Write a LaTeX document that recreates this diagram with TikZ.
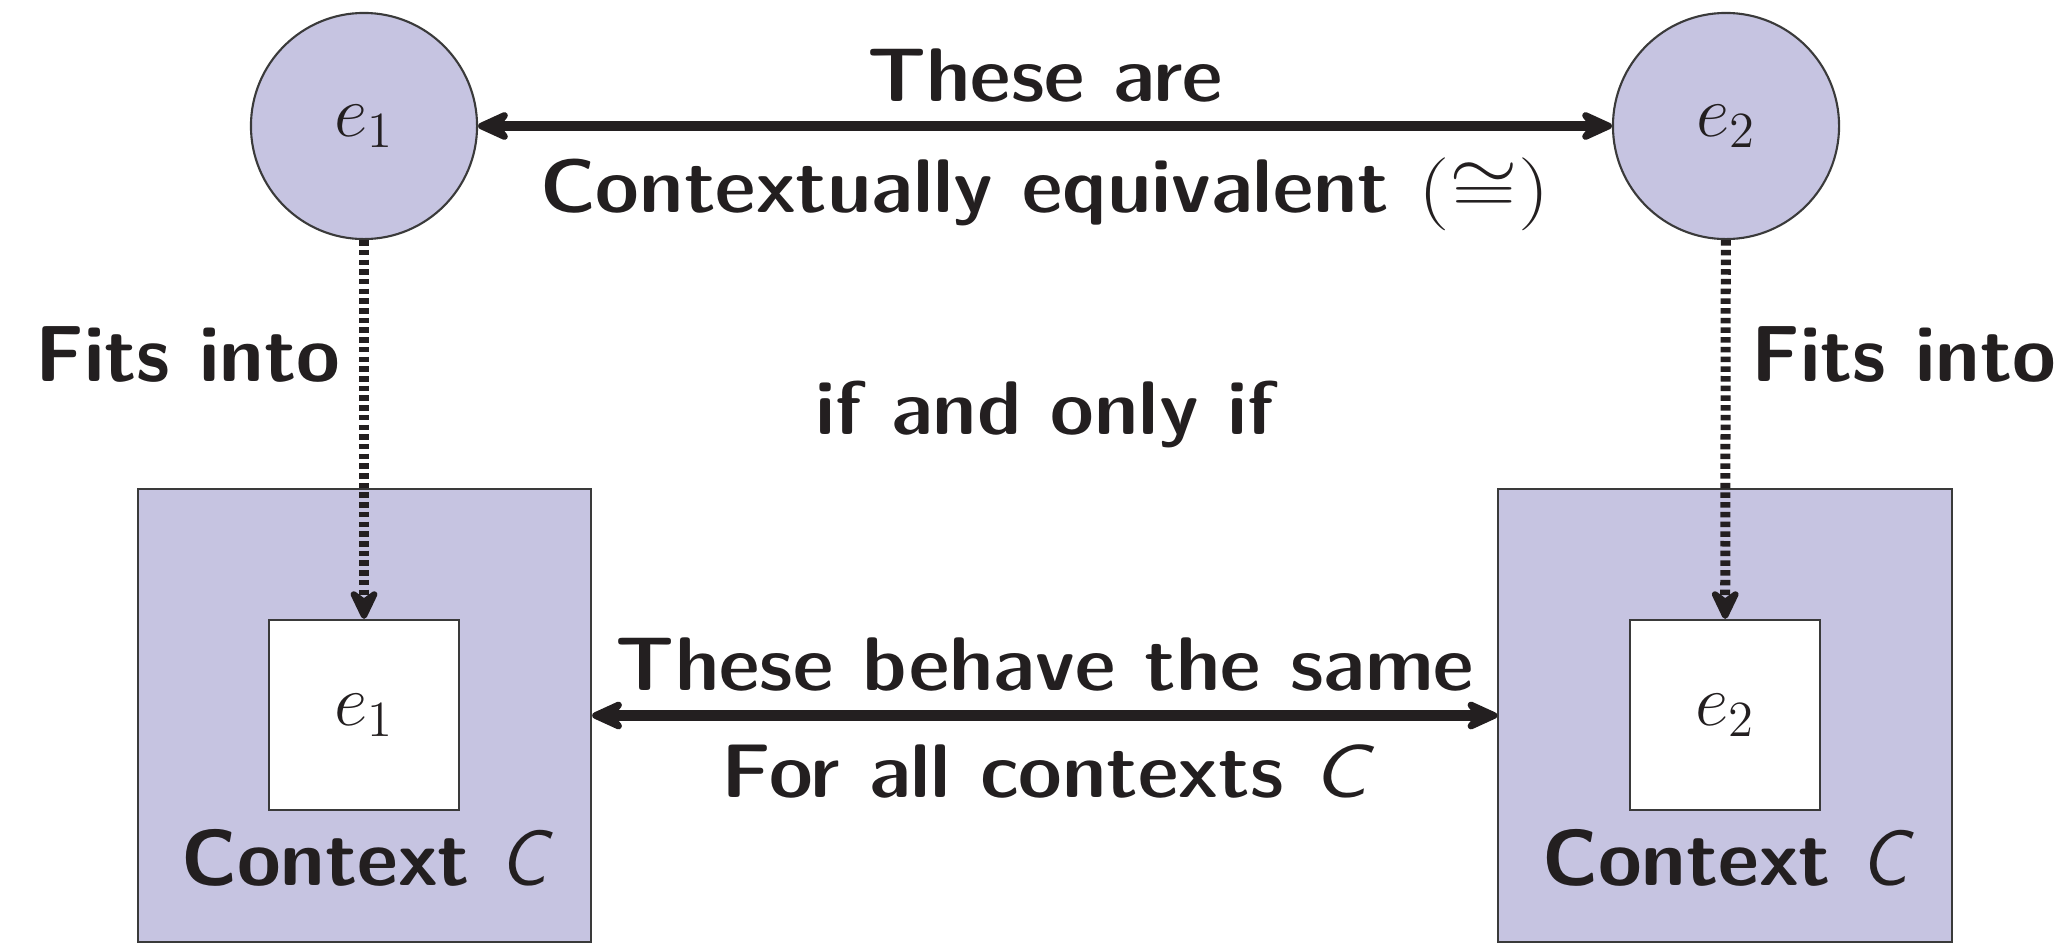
\documentclass[tikz,border=0pt]{standalone}
\usetikzlibrary{arrows.meta}
\definecolor{lav}{HTML}{C6C4E1}
\definecolor{ink}{HTML}{231F20}
\definecolor{edge}{HTML}{3A3A3A}
\newcommand\bigfont{\fontsize{22.6}{27}\selectfont}
\newcommand\wide{\bigfont\sffamily\bfseries}
\newcommand\cond[1]{\scalebox{1.21}[1]{\fontsize{21.6}{26}\selectfont\sffamily\fontseries{sbc}\selectfont #1}}
\newcommand\var[1]{{\sffamily\itshape\fontseries{m}\selectfont #1}}
\newcommand\ex[1]{{\fontsize{20.5}{24}\selectfont$e_{#1}$}}
\tikzset{
  circ/.style={circle, draw=edge, line width=0.6pt, fill=lav, minimum size=2.26cm, inner sep=0pt, text=ink},
  ctxbox/.style={rectangle, draw=edge, line width=0.6pt, fill=lav, minimum size=4.53cm, inner sep=0pt},
  inbox/.style={rectangle, draw=edge, line width=0.6pt, fill=white, minimum size=1.9cm, inner sep=0pt, text=ink},
  twoway/.style={draw=ink, line width=2.9pt, {Stealth[length=0.42cm,width=0.38cm,inset=0.15cm,round]}-{Stealth[length=0.42cm,width=0.38cm,inset=0.15cm,round]}},
  fits/.style={draw=ink, line width=0.1cm, dash pattern=on 0.055cm off 0.042cm, -{Stealth[length=0.38cm,width=0.36cm,inset=0.13cm,round]}},
  lbl/.style={text=ink, inner sep=0pt, anchor=base}
}
\begin{document}
\begin{tikzpicture}[x=0.01cm,y=-0.01cm]
\useasboundingbox (0,0) rectangle (2061,948);
\node[ctxbox] (b1) at (364.5,715.5) {};
\node[ctxbox] (b2) at (1725,715.5) {};
\node[inbox] (i1) at (364,715) {\ex{1}};
\node[inbox] (i2) at (1725,715) {\ex{2}};
\node[circ] (c1) at (364,126) {\ex{1}};
\node[circ] (c2) at (1726,126) {\ex{2}};
\draw[twoway] (c1) -- (c2);
\draw[twoway] (b1) -- (b2);
\draw[fits] (c1) -- (i1);
\draw[fits] (c2) -- (i2);
\node[lbl] (t1) at (1045,101) {\cond{These are}};
\node[lbl] (t2) at (1045,212) {\cond{Contextually equivalent $(\cong)$}};
\node[lbl] (f1) at (188,381) {\wide Fits into};
\node[lbl] (f2) at (1904,381) {\wide Fits into};
\node[lbl] (iff) at (1045,434) {\cond{if and only if}};
\node[lbl] (t3) at (1045,690) {\cond{These behave the same}};
\node[lbl] (t4) at (1045,797) {\cond{For all contexts \var{C}}};
\node[lbl] (k1) at (364,885) {\wide Context \var{C}};
\node[lbl] (k2) at (1725,885) {\wide Context \var{C}};
\end{tikzpicture}
\end{document}
